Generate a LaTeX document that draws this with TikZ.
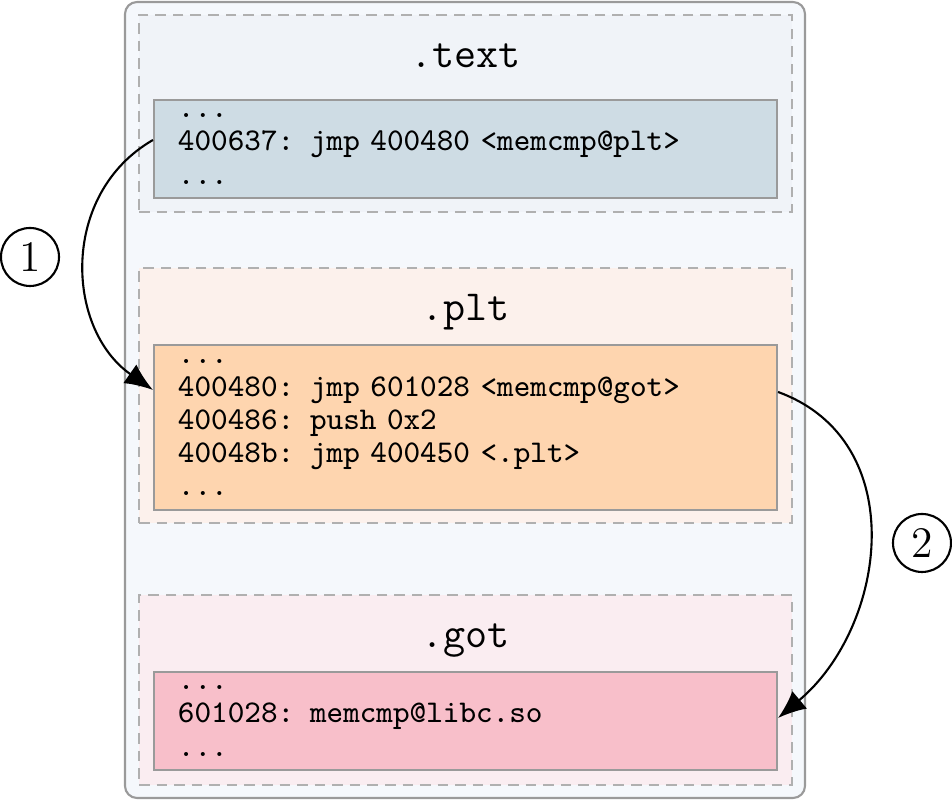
\documentclass[tikz,border=0pt]{standalone}
\usepackage{fontspec}
\usetikzlibrary{arrows.meta}
\definecolor{FrameClr}{HTML}{F5F8FC}
\definecolor{EdgeClr}{HTML}{9A9A9A}
\definecolor{DashClr}{HTML}{B0B0B0}
\definecolor{TextGrpClr}{HTML}{F0F3F8}
\definecolor{TextClr}{HTML}{CEDCE4}
\definecolor{PltGrpClr}{HTML}{FCF1EC}
\definecolor{PltClr}{HTML}{FED5AF}
\definecolor{GotGrpClr}{HTML}{FAEDF1}
\definecolor{GotClr}{HTML}{F8BFCA}

\begin{document}
\begin{tikzpicture}[
  section/.style={draw=DashClr,line width=0.6pt,dash pattern=on 3pt off 2pt,
    minimum width=6.53cm,inner sep=0pt},
  code/.style={draw=EdgeClr,line width=0.6pt,minimum width=6.23cm,text width=5.75cm,
    inner xsep=0.24cm,inner ysep=0pt,align=left,
    font=\ttfamily\fontsize{9}{9.4}\selectfont},
  title/.style={anchor=base,font=\ttfamily\fontsize{12.2}{14}\selectfont},
  jump/.style={line width=0.6pt,-{Latex[length=8pt,width=6.5pt]}},
  num/.style={draw,circle,line width=0.6pt,minimum size=0.58cm,inner sep=0pt,
    font=\fontsize{12.4}{14}\selectfont}]
\useasboundingbox (0,0) rectangle (9.52,8.00);

% outer frame
\node[draw=EdgeClr,fill=FrameClr,line width=0.6pt,rounded corners=0.12cm,
  minimum width=6.80cm,minimum height=7.96cm] (frame) at (4.65,4.00) {};

% sections
\node[section,fill=TextGrpClr,minimum height=1.97cm] (textgrp) at (4.655,6.865) {};
\node[section,fill=PltGrpClr,minimum height=2.55cm] (pltgrp) at (4.655,4.045) {};
\node[section,fill=GotGrpClr,minimum height=1.90cm] (gotgrp) at (4.655,1.10) {};

\node[title] (texttitle) at (4.655,7.32) {.text};
\node[title] (plttitle) at (4.655,4.79) {.plt};
\node[title] (gottitle) at (4.655,1.52) {.got};

% code boxes
\node[code,fill=TextClr,minimum height=0.98cm] (textcode) at (4.655,6.51)
  {...\\400637: jmp 400480 <memcmp@plt>\\...};
\node[code,fill=PltClr,minimum height=1.65cm] (pltcode) at (4.655,3.725)
  {...\\400480: jmp 601028 <memcmp@got>\\400486: push 0x2\\40048b: jmp 400450 <.plt>\\...};
\node[code,fill=GotClr,minimum height=0.98cm] (gotcode) at (4.655,0.79)
  {...\\601028: memcmp@libc.so\\...};

% jumps
\draw[jump] ([yshift=0.09cm]textcode.west) to[out=210,in=145,looseness=1.1]
  ([yshift=0.375cm]pltcode.west);
\draw[jump] ([yshift=0.355cm]pltcode.east) to[out=-20,in=40,looseness=1.12]
  ([yshift=0.03cm]gotcode.east);

\node[num] (one) at (0.30,5.43) {1};
\node[num] (two) at (9.22,2.57) {2};
\end{tikzpicture}
\end{document}
